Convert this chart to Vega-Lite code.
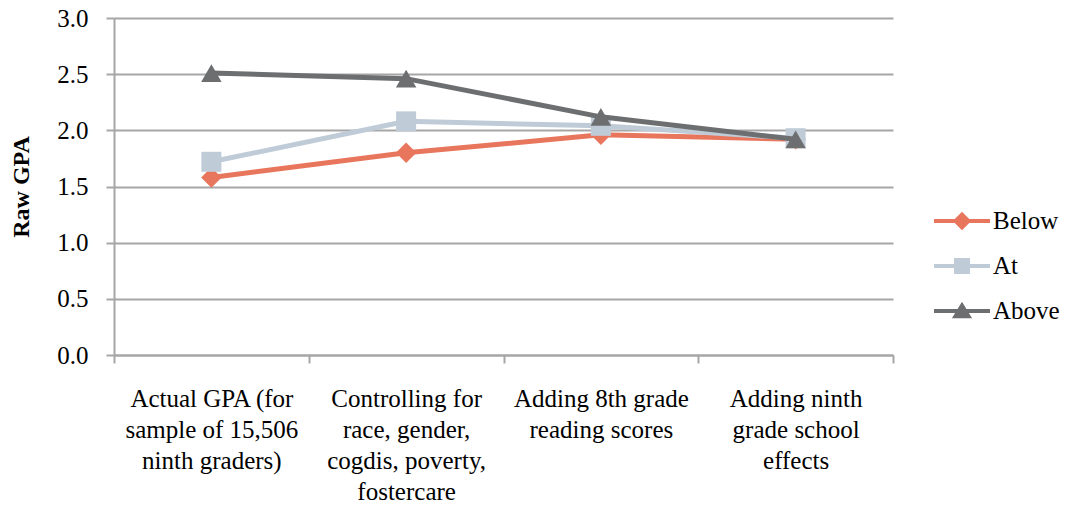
{
  "$schema": "https://vega.github.io/schema/vega-lite/v6.json",
  "autosize": {"type": "none"},
  "width": 779,
  "height": 337,
  "padding": {"left": 114, "top": 18, "right": 174, "bottom": 153},
  "background": "white",
  "config": {
    "view": {"stroke": null},
    "font": "Liberation Serif",
    "text": {"font": "Liberation Serif"},
    "axis": {"labelFont": "Liberation Serif", "titleFont": "Liberation Serif", "labelColor": "#000000", "titleColor": "#000000"},
    "legend": {"labelFont": "Liberation Serif"}
  },
  "data": {
    "values": [
      {"step": "Actual GPA (for|sample of 15,506|ninth graders)", "series": "Below", "gpa": 1.58},
      {"step": "Controlling for|race, gender,|cogdis, poverty,|fostercare", "series": "Below", "gpa": 1.80},
      {"step": "Adding 8th grade|reading scores", "series": "Below", "gpa": 1.96},
      {"step": "Adding ninth|grade school|effects", "series": "Below", "gpa": 1.92},
      {"step": "Actual GPA (for|sample of 15,506|ninth graders)", "series": "At", "gpa": 1.72},
      {"step": "Controlling for|race, gender,|cogdis, poverty,|fostercare", "series": "At", "gpa": 2.08},
      {"step": "Adding 8th grade|reading scores", "series": "At", "gpa": 2.04},
      {"step": "Adding ninth|grade school|effects", "series": "At", "gpa": 1.93},
      {"step": "Actual GPA (for|sample of 15,506|ninth graders)", "series": "Above", "gpa": 2.51},
      {"step": "Controlling for|race, gender,|cogdis, poverty,|fostercare", "series": "Above", "gpa": 2.46},
      {"step": "Adding 8th grade|reading scores", "series": "Above", "gpa": 2.12},
      {"step": "Adding ninth|grade school|effects", "series": "Above", "gpa": 1.92}
    ]
  },
  "encoding": {
    "x": {
      "field": "step",
      "type": "nominal",
      "sort": null,
      "scale": {"paddingInner": 0, "paddingOuter": 0},
      "axis": {
        "title": null,
        "labelAngle": 0,
        "labelExpr": "split(datum.label, '|')",
        "labelFont": "Liberation Serif",
        "labelFontSize": 25,
        "labelLineHeight": 31,
        "labelPadding": 23,
        "labelLimit": 0,
        "labelBaseline": "top",
        "tickBand": "extent",
        "tickSize": 8,
        "tickColor": "#A6A6A6",
        "tickWidth": 2,
        "domainColor": "#A6A6A6",
        "domainWidth": 2,
        "grid": false
      }
    },
    "y": {
      "field": "gpa",
      "type": "quantitative",
      "scale": {"domain": [0, 3], "nice": false, "zero": true},
      "axis": {
        "title": "Raw GPA",
        "titleFont": "Liberation Serif",
        "titleFontSize": 24,
        "titleFontWeight": "bold",
        "titlePadding": 23,
        "values": [0, 0.5, 1, 1.5, 2, 2.5, 3],
        "format": ".1f",
        "labelFont": "Liberation Serif",
        "labelFontSize": 25,
        "labelPadding": 18,
        "tickSize": 8,
        "tickColor": "#A6A6A6",
        "tickWidth": 2,
        "domainColor": "#A6A6A6",
        "domainWidth": 2,
        "grid": true,
        "gridColor": "#A6A6A6",
        "gridWidth": 2
      }
    }
  },
  "layer": [
    {
      "transform": [{"filter": "datum.series == 'Below'"}],
      "mark": {"type": "line", "strokeWidth": 5, "color": "#E8765D"},
      "encoding": {}
    },
    {
      "transform": [{"filter": "datum.series == 'Below'"}],
      "mark": {"type": "point", "filled": true, "opacity": 1, "shape": "diamond", "size": 420, "color": "#E8765D"},
      "encoding": {}
    },
    {
      "transform": [{"filter": "datum.series == 'At'"}],
      "mark": {"type": "line", "strokeWidth": 5, "color": "#BFCBD7"},
      "encoding": {}
    },
    {
      "transform": [{"filter": "datum.series == 'At'"}],
      "mark": {"type": "point", "filled": true, "opacity": 1, "shape": "square", "size": 400, "color": "#BFCBD7"},
      "encoding": {}
    },
    {
      "transform": [{"filter": "datum.series == 'Above'"}],
      "mark": {"type": "line", "strokeWidth": 5, "color": "#6D6E70"},
      "encoding": {}
    },
    {
      "transform": [{"filter": "datum.series == 'Above'"}],
      "mark": {"type": "point", "filled": true, "opacity": 1, "shape": "triangle-up", "size": 420, "color": "#6D6E70"},
      "encoding": {}
    },
    {
      "transform": [{"filter": "datum.series == 'none'"}],
      "mark": {"type": "point", "filled": true, "opacity": 1},
      "encoding": {
        "color": {
          "field": "series", "type": "nominal",
          "scale": {"domain": ["Below", "At", "Above"], "range": ["#E8765D", "#BFCBD7", "#6D6E70"]},
          "legend": {
            "title": null,
            "orient": "none",
            "legendX": 833,
            "legendY": 188,
            "symbolSize": 784,
            "symbolOpacity": 1,
            "labelFont": "Liberation Serif",
            "labelFontSize": 25,
            "labelOffset": 16,
            "rowPadding": 17,
            "labelColor": "#000000"
          }
        },
        "shape": {
          "field": "series", "type": "nominal",
          "scale": {
            "domain": ["Below", "At", "Above"],
            "range": [
              "M-2,-0.15H2V0.15H-2Z M0,-0.66L0.66,0L0,0.66L-0.66,0Z",
              "M-2,-0.15H2V0.15H-2Z M-0.57,-0.57H0.57V0.57H-0.57Z",
              "M-2,-0.15H2V0.15H-2Z M0,-0.66L0.72,0.52L-0.72,0.52Z"
            ]
          },
          "legend": {
            "title": null,
            "orient": "none",
            "legendX": 833,
            "legendY": 188,
            "symbolSize": 784,
            "symbolOpacity": 1,
            "labelFont": "Liberation Serif",
            "labelFontSize": 25,
            "labelOffset": 16,
            "rowPadding": 17,
            "labelColor": "#000000"
          }
        }
      }
    }
  ]
}
